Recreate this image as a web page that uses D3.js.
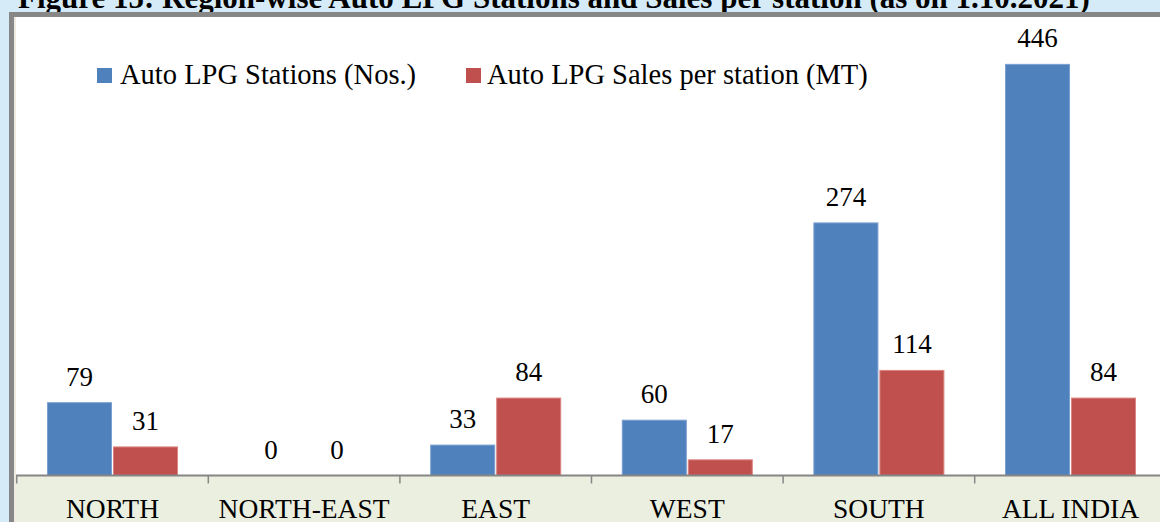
<!DOCTYPE html>
<html><head><meta charset="utf-8">
<script src="https://cdn.jsdelivr.net/npm/d3@7"></script>
<style>
html,body{margin:0;padding:0;background:#D6EBF8;}
svg{display:block;}
text{font-family:"Liberation Serif","Times New Roman",serif;fill:#000;}
</style></head><body>
<script>
const categories = ["NORTH","NORTH-EAST","EAST","WEST","SOUTH","ALL INDIA"];
const stations = [79,0,33,60,274,446];
const salesPerStation = [31,0,84,17,114,84];
const seriesNames = ["Auto LPG Stations (Nos.)","Auto LPG Sales per station (MT)"];
const seriesColors = ["#4F81BD","#C0504D"];
const seriesStroke = ["#7A9FD0","#DC8583"];
const title = "Figure 15: Region-wise Auto LPG Stations and Sales per station (as on 1.10.2021)";

const W=1160,H=522;
const svg=d3.select("body").append("svg").attr("width",W).attr("height",H);

// title (partly cut off at top)
const t=svg.append("text").attr("x",18).attr("y",8).style("font-weight","bold").style("font-size","27px").text(title);
const tl=t.node().getComputedTextLength();
if(tl>0) t.style("font-size",(27*1072/tl)+"px");

// frame
svg.append("rect").attr("x",9).attr("y",12).attr("width",W+20).attr("height",H+20).attr("fill","#878787");
svg.append("rect").attr("x",14).attr("y",17).attr("width",W).attr("height",H).attr("fill","#EEECE1");
svg.append("rect").attr("x",16).attr("y",17).attr("width",W).attr("height",H).attr("fill","#fff");

const x0=16.7, bandW=191.6;
const x=d3.scaleBand().domain(categories).range([x0,x0+bandW*categories.length]).paddingInner(0).paddingOuter(0);
const inner=d3.scaleBand().domain([0,1]).range([30.8,bandW-30.8]).paddingInner(0.03);
const y=d3.scaleLinear().domain([0,500]).range([475.5,14.6]);

// bottom label band
svg.append("rect").attr("x",16).attr("y",y(0)).attr("width",W).attr("height",H-y(0)).attr("fill","#EBEFDF");

const series=[stations,salesPerStation];
series.forEach((vals,si)=>{
  const g=svg.append("g");
  g.selectAll("rect").data(vals).join("rect")
    .attr("x",(d,i)=>x(categories[i])+inner(si))
    .attr("y",d=>y(d))
    .attr("width",inner.bandwidth())
    .attr("height",d=>y(0)-y(d))
    .attr("fill",seriesColors[si])
    .attr("stroke",d=>d>0?seriesStroke[si]:"none").attr("stroke-width",1);
  g.selectAll("text").data(vals).join("text")
    .attr("x",(d,i)=>x(categories[i])+inner(si)+inner.bandwidth()/2)
    .attr("y",d=>y(d)-17)
    .attr("text-anchor","middle").style("font-size","27px").text(d=>d);
});

// x axis
const axg=svg.append("g").attr("transform",`translate(0,${y(0)})`);
axg.append("line").attr("x1",16).attr("x2",W).attr("y1",0).attr("y2",0).attr("stroke","#868686").attr("stroke-width",2);
const ticks=d3.range(categories.length+1).map(i=>x0+i*bandW);
axg.selectAll("line.tk").data(ticks).join("line").attr("class","tk")
  .attr("x1",d=>d).attr("x2",d=>d).attr("y1",0).attr("y2",8).attr("stroke","#868686").attr("stroke-width",1.5);
axg.selectAll("text.lb").data(categories).join("text").attr("class","lb")
  .attr("x",d=>x(d)+bandW/2).attr("y",42.5).attr("text-anchor","middle").style("font-size","27.5px").text(d=>d);

// legend
const leg=[{sx:97,tx:120},{sx:466,tx:487}];
leg.forEach((l,i)=>{
  svg.append("rect").attr("x",l.sx).attr("y",68).attr("width",15).attr("height",15).attr("fill",seriesColors[i]);
  svg.append("text").attr("x",l.tx).attr("y",84).style("font-size","28.5px").text(seriesNames[i]);
});
</script>
</body></html>
